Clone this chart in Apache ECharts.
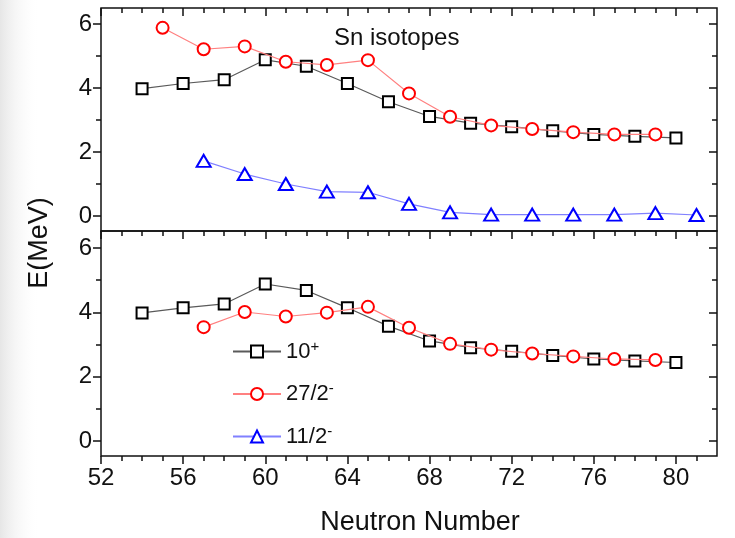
<!DOCTYPE html>
<html>
<head>
<meta charset="utf-8">
<script src="https://cdn.jsdelivr.net/npm/echarts@6/dist/echarts.min.js"></script>
<style>
  html, body { margin: 0; padding: 0; background: #fff; }
  #chart { width: 735px; height: 538px; }
</style>
</head>
<body>
<div id="chart"></div>
<script>
// Sn isotopes: isomer excitation energies (MeV) versus neutron number
const nEven = [54, 56, 58, 60, 62, 64, 66, 68, 70, 72, 74, 76, 78, 80];
const e10Plus = [3.98, 4.14, 4.26, 4.88, 4.68, 4.14, 3.57, 3.11, 2.90, 2.79, 2.66, 2.55, 2.49, 2.44];

const nOddUpper = [55, 57, 59, 61, 63, 65, 67, 69, 71, 73, 75, 77, 79];
const e27Upper = [5.88, 5.21, 5.30, 4.82, 4.72, 4.87, 3.83, 3.10, 2.83, 2.72, 2.62, 2.55, 2.55];

const nOddLower = [57, 59, 61, 63, 65, 67, 69, 71, 73, 75, 77, 79];
const e27Lower = [3.54, 4.01, 3.87, 3.99, 4.17, 3.52, 3.02, 2.84, 2.72, 2.63, 2.55, 2.52];

const nOdd11 = [57, 59, 61, 63, 65, 67, 69, 71, 73, 75, 77, 79, 81];
const e11Minus = [1.72, 1.31, 1.00, 0.76, 0.74, 0.38, 0.11, 0.04, 0.04, 0.04, 0.04, 0.09, 0.03];

// Tick positions
const xMajorTicks = [52, 56, 60, 64, 68, 72, 76, 80];
const xMinorTicks = [53, 54, 55, 57, 58, 59, 61, 62, 63, 65, 66, 67, 69, 70, 71, 73, 74, 75, 77, 78, 79, 81];
const yMajorTicks = [0, 2, 4, 6];
const yMinorTicks = [1, 3, 5];

// Legend entries (base text + superscript)
const legendNames = ['10+', '27/2-', '11/2-'];
const legendParts = { '10+': ['10', '+'], '27/2-': ['27/2', '-'], '11/2-': ['11/2', '-'] };

const FONT = 'Liberation Sans, Arial, sans-serif';
const INK = '#111';

const chart = echarts.init(document.getElementById('chart'), null, { renderer: 'canvas' });

const panels = [
  { top: 8, height: 223, yMin: -0.47, yMax: 6.5, bottomTicks: false },
  { top: 231, height: 225, yMin: -0.466, yMax: 6.528, bottomTicks: true }
];

const grids = [];
const xAxes = [];
const yAxes = [];
const panelAxis = []; // first x/y axis index for each panel

function tickAxisX(gridIndex, position, values, length, inside, withLabels, extra) {
  return Object.assign({
    type: 'value', gridIndex, position, min: 52, max: 82,
    axisLine: { show: false, onZero: false }, splitLine: { show: false },
    axisTick: { show: true, inside, length, customValues: values,
      lineStyle: { color: INK, width: 1.5 } },
    axisLabel: withLabels
      ? { show: true, customValues: values, margin: 10, fontSize: 24, color: INK, fontFamily: FONT }
      : { show: false }
  }, extra || {});
}

function tickAxisY(gridIndex, position, min, max, values, length, inside, withLabels) {
  return {
    type: 'value', gridIndex, position, min, max,
    axisLine: { show: false, onZero: false }, splitLine: { show: false },
    axisTick: { show: true, inside, length, customValues: values,
      lineStyle: { color: INK, width: 1.5 } },
    axisLabel: withLabels
      ? { show: true, customValues: values, margin: 9, fontSize: 24, color: INK, fontFamily: FONT }
      : { show: false }
  };
}

panels.forEach((p, gi) => {
  grids.push({ left: 101, right: 18, top: p.top, height: p.height,
    show: true, borderColor: INK, borderWidth: 1.5, backgroundColor: 'transparent' });
  panelAxis.push({ x: xAxes.length, y: yAxes.length });
  // top edge ticks (inward)
  xAxes.push(tickAxisX(gi, 'top', xMajorTicks, 8, true, false));
  xAxes.push(tickAxisX(gi, 'top', xMinorTicks, 5, true, false));
  if (p.bottomTicks) {
    xAxes.push(tickAxisX(gi, 'bottom', xMajorTicks, 8, false, true, {
      name: 'Neutron Number', nameLocation: 'middle', nameGap: 53,
      nameTextStyle: { fontSize: 27, color: INK, fontFamily: FONT, padding: [0, 0, 0, 22] }
    }));
    xAxes.push(tickAxisX(gi, 'bottom', xMinorTicks, 5, false, false));
  }
  // left edge ticks (outward, labelled) and right edge ticks (inward)
  yAxes.push(tickAxisY(gi, 'left', p.yMin, p.yMax, yMajorTicks, 8, false, true));
  yAxes.push(tickAxisY(gi, 'left', p.yMin, p.yMax, yMinorTicks, 5, false, false));
  yAxes.push(tickAxisY(gi, 'right', p.yMin, p.yMax, yMajorTicks, 8, true, false));
  yAxes.push(tickAxisY(gi, 'right', p.yMin, p.yMax, yMinorTicks, 5, true, false));
});

const styles = {
  '10+':   { symbol: 'rect', size: 11, border: '#000000', line: '#5a5a5a', z: 3 },
  '27/2-': { symbol: 'circle', size: 12, border: '#ff0000', line: '#ff8080', z: 4 },
  '11/2-': { symbol: 'triangle', size: [14, 12], border: '#0000ff', line: '#8080ff', z: 5 }
};

function series(name, panel, xs, ys) {
  const s = styles[name];
  return {
    type: 'line', name,
    xAxisIndex: panelAxis[panel].x, yAxisIndex: panelAxis[panel].y,
    data: xs.map((x, i) => [x, ys[i]]),
    symbol: s.symbol, symbolSize: s.size, showAllSymbol: true,
    itemStyle: { color: '#ffffff', borderColor: s.border, borderWidth: 2 },
    lineStyle: { color: s.line, width: 1.2 },
    z: s.z, emphasis: { disabled: true }, animation: false
  };
}

const option = {
  backgroundColor: '#ffffff',
  animation: false,
  grid: grids,
  xAxis: xAxes,
  yAxis: yAxes,
  title: {
    text: 'Sn isotopes', left: 334, top: 26, padding: 0,
    textStyle: { fontSize: 24, fontWeight: 'normal', color: INK, fontFamily: FONT }
  },
  legend: {
    orient: 'vertical', left: 232, top: 339, padding: 0,
    itemWidth: 48, itemHeight: 15, itemGap: 19,
    data: legendNames,
    selectedMode: false,
    formatter: name => '{b|' + legendParts[name][0] + '}{s|' + legendParts[name][1] + '}',
    textStyle: {
      color: INK, fontFamily: FONT, fontSize: 22,
      rich: {
        b: { fontSize: 22, lineHeight: 25, color: INK, fontFamily: FONT },
        s: { fontSize: 15, lineHeight: 8, verticalAlign: 'top', color: INK, fontFamily: FONT }
      }
    }
  },
  graphic: [
    {
      type: 'rect', left: 0, top: 0, z: -10, silent: true,
      shape: { width: 40, height: 538 },
      style: { fill: new echarts.graphic.LinearGradient(0, 0, 1, 0, [
        { offset: 0, color: 'rgba(200,200,200,0.45)' },
        { offset: 1, color: 'rgba(255,255,255,0)' }
      ]) }
    },
    {
      type: 'text', x: 40, y: 243, rotation: Math.PI / 2, silent: true,
      style: { text: 'E(MeV)', fontSize: 27, fontFamily: FONT, fill: INK,
        align: 'center', verticalAlign: 'middle' }
    }
  ],
  series: [
    series('10+', 0, nEven, e10Plus),
    series('27/2-', 0, nOddUpper, e27Upper),
    series('11/2-', 0, nOdd11, e11Minus),
    series('10+', 1, nEven, e10Plus),
    series('27/2-', 1, nOddLower, e27Lower)
  ]
};

chart.setOption(option);
</script>
</body>
</html>
